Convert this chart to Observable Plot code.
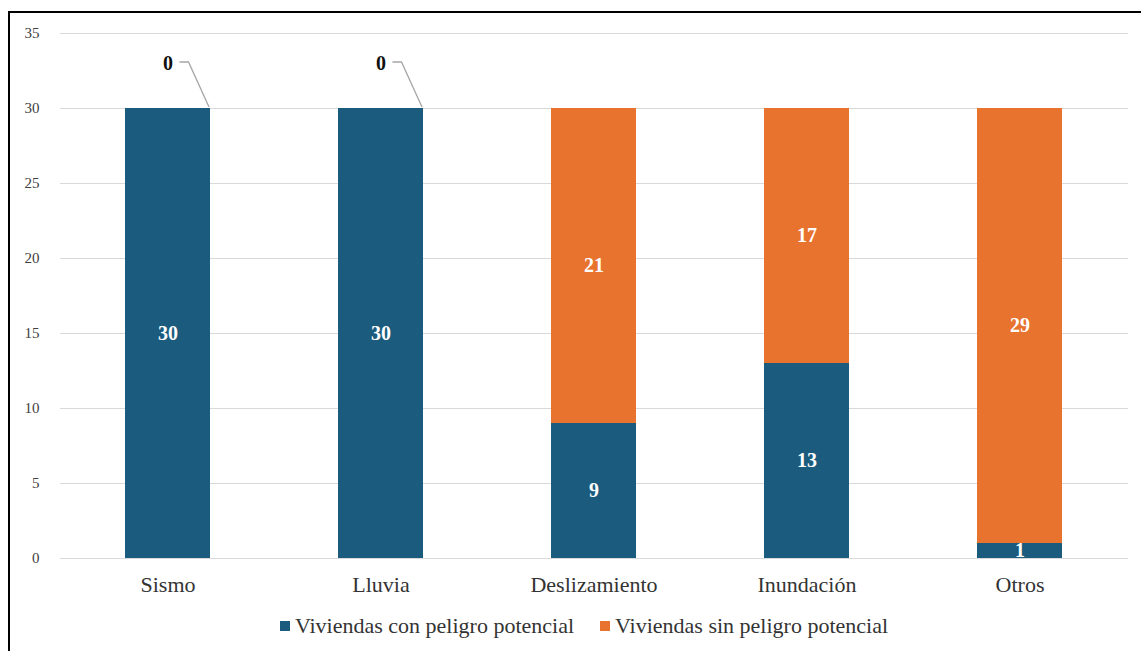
<!DOCTYPE html>
<html>
<head>
<meta charset="utf-8">
<script src="https://cdn.jsdelivr.net/npm/d3@7"></script>
<script src="https://cdn.jsdelivr.net/npm/@observablehq/plot@0.6"></script>
<style>
  html, body { margin: 0; padding: 0; background: #fff; }
  #wrap { position: relative; width: 1141px; height: 651px; overflow: hidden; font-family: "Liberation Serif", "Times New Roman", serif; }
  #frame { position: absolute; left: 8px; top: 11px; width: 1150px; height: 660px; border: 2px solid #000; box-sizing: border-box; pointer-events: none; }
  #chart { position: absolute; left: 0; top: 0; }
  #legend { position: absolute; left: 0; width: 1168px; top: 613px; text-align: center; font-size: 22px; color: #333; white-space: nowrap; }
  .item { display: inline-block; margin: 0 13px; }
  .sw { display: inline-block; width: 10px; height: 10px; margin-right: 5px; vertical-align: 2px; }
</style>
</head>
<body>
<div id="wrap">
  <div id="chart"></div>
  <div id="legend"></div>
  <div id="frame"></div>
</div>
<script>
const categories = ["Sismo", "Lluvia", "Deslizamiento", "Inundación", "Otros"];
const seriesNames = ["Viviendas con peligro potencial", "Viviendas sin peligro potencial"];
const conPeligro = [30, 30, 9, 13, 1];
const sinPeligro = [0, 0, 21, 17, 29];
const yTicks = [0, 5, 10, 15, 20, 25, 30, 35];
const colors = ["#1a5b7e", "#e8732f"];

const rows = [];
categories.forEach((c, i) => {
  rows.push({cat: c, series: seriesNames[0], value: conPeligro[i]});
  rows.push({cat: c, series: seriesNames[1], value: sinPeligro[i]});
});
const nonZero = rows.filter(d => d.value !== 0);
const zeroRows = categories.map((c, i) => ({cat: c, total: conPeligro[i] + sinPeligro[i], value: sinPeligro[i]})).filter(d => d.value === 0);

const font = "'Liberation Serif', 'Times New Roman', serif";

const leader = (index, scales) => {
  const sx = scales.x, sy = scales.y;
  const bw = typeof sx.bandwidth === "function" ? sx.bandwidth() : sx.bandwidth;
  const g = d3.create("svg:g");
  zeroRows.forEach(d => {
    const x0 = sx(d.cat);
    const cx = x0 + bw / 2;
    const yt = sy(d.total);
    g.append("path")
      .attr("d", `M${cx + 12},${yt - 46} L${cx + 21},${yt - 46} L${x0 + bw - 1},${yt - 1}`)
      .attr("fill", "none")
      .attr("stroke", "#a6a6a6")
      .attr("stroke-width", 1.3);
  });
  return g.node();
};

const plot = Plot.plot({
  width: 1141,
  height: 612,
  marginLeft: 60,
  marginRight: 13,
  marginTop: 33,
  marginBottom: 54,
  style: {fontFamily: font, background: "transparent"},
  x: {domain: categories, paddingInner: 0.6, paddingOuter: 0.3, label: null},
  y: {domain: [0, 35], ticks: yTicks, label: null},
  color: {domain: seriesNames, range: colors},
  marks: [
    Plot.gridY(yTicks, {stroke: "#d9d9d9", strokeOpacity: 1, strokeWidth: 1}),
    Plot.barY(rows, {x: "cat", y: "value", fill: "series", z: "series"}),
    Plot.text(nonZero, Plot.stackY({x: "cat", y: "value", z: "series", text: d => String(d.value), fill: "white", fontWeight: "bold", fontSize: 20, fontFamily: font})),
    Plot.text(zeroRows, {x: "cat", y: "total", text: d => String(d.value), dy: -45, fill: "#111", fontWeight: "bold", fontSize: 20, fontFamily: font}),
    leader,
    Plot.axisY(yTicks, {tickSize: 0, tickPadding: 21, fontSize: 15, fill: "#404040", fontFamily: font}),
    Plot.axisX({tickSize: 0, tickPadding: 18, fontSize: 22, fill: "#333", fontFamily: font, label: null})
  ]
});
document.getElementById("chart").appendChild(plot);

const legend = document.getElementById("legend");
seriesNames.forEach((s, i) => {
  const item = document.createElement("span");
  item.className = "item";
  const sw = document.createElement("span");
  sw.className = "sw";
  sw.style.background = colors[i];
  item.appendChild(sw);
  item.appendChild(document.createTextNode(s));
  legend.appendChild(item);
});
</script>
</body>
</html>
